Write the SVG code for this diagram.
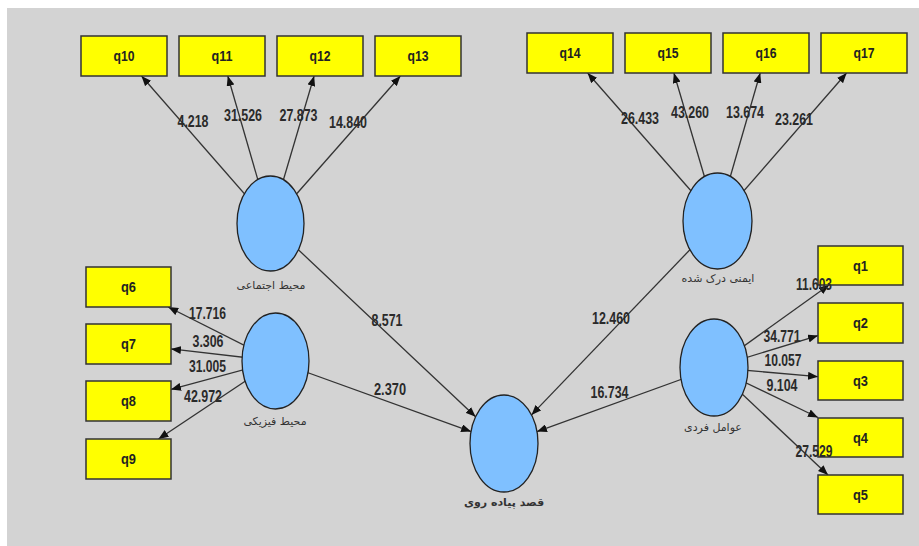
<svg xmlns="http://www.w3.org/2000/svg" width="919" height="546" viewBox="0 0 919 546">
<defs>
<marker id="ah" markerUnits="userSpaceOnUse" markerWidth="10" markerHeight="8" refX="10" refY="4" orient="auto">
<path d="M0,0 L10,4 L0,8 z" fill="#111"/>
</marker>
<style>
.bg{fill:#D3D3D3}
.box{fill:#FFFF00;stroke:#333;stroke-width:1.5}
.lv{fill:#7FC0FF;stroke:#222;stroke-width:1.3}
.ln{stroke:#333;stroke-width:1.3;fill:none;marker-end:url(#ah)}
.bt{font-family:"Liberation Sans",Arial,sans-serif;font-size:14px;font-weight:bold;fill:#222;text-anchor:middle}
.nt{font-family:"Liberation Sans",Arial,sans-serif;font-size:16px;font-weight:bold;fill:#2a2a2a;text-anchor:middle}
.at{font-family:"DejaVu Sans",sans-serif;font-size:11px;fill:#333;text-anchor:middle}
</style>
</defs>
<rect x="0" y="0" width="919" height="546" fill="#fff"/>
<rect class="bg" x="7" y="8" width="912" height="538"/>

<g id="connectors">
<line class="ln" x1="270.5" y1="223.5" x2="141.5" y2="76"/>
<line class="ln" x1="270.5" y1="223.5" x2="227.8" y2="76"/>
<line class="ln" x1="270.5" y1="223.5" x2="314.1" y2="76"/>
<line class="ln" x1="270.5" y1="223.5" x2="400.4" y2="76"/>
<line class="ln" x1="717.5" y1="221" x2="587.6" y2="73"/>
<line class="ln" x1="717.5" y1="221" x2="673.9" y2="73"/>
<line class="ln" x1="717.5" y1="221" x2="760.2" y2="73"/>
<line class="ln" x1="717.5" y1="221" x2="846.6" y2="73"/>
<line class="ln" x1="275.5" y1="361" x2="168.2" y2="307"/>
<line class="ln" x1="275.5" y1="361" x2="171" y2="348.9"/>
<line class="ln" x1="275.5" y1="361" x2="171" y2="389.4"/>
<line class="ln" x1="275.5" y1="361" x2="158.5" y2="439"/>
<line class="ln" x1="714" y1="367.5" x2="829" y2="285"/>
<line class="ln" x1="714" y1="367.5" x2="818" y2="335.6"/>
<line class="ln" x1="714" y1="367.5" x2="818" y2="376.7"/>
<line class="ln" x1="714" y1="367.5" x2="818" y2="417.5"/>
<line class="ln" x1="714" y1="367.5" x2="828" y2="475"/>
<line class="ln" x1="270.5" y1="223.5" x2="475.6" y2="416.8"/>
<line class="ln" x1="275.5" y1="361" x2="471.1" y2="431.6"/>
<line class="ln" x1="717.5" y1="221" x2="531.5" y2="414.9"/>
<line class="ln" x1="714" y1="367.5" x2="537" y2="431.6"/>
</g>

<g id="q10"><rect class="box" x="81" y="36" width="86" height="40"/><text class="bt" x="124" y="61" textLength="21" lengthAdjust="spacingAndGlyphs">q10</text></g>
<g id="q11"><rect class="box" x="179" y="36" width="86" height="40"/><text class="bt" x="222" y="61" textLength="21" lengthAdjust="spacingAndGlyphs">q11</text></g>
<g id="q12"><rect class="box" x="277" y="36" width="86" height="40"/><text class="bt" x="320" y="61" textLength="21" lengthAdjust="spacingAndGlyphs">q12</text></g>
<g id="q13"><rect class="box" x="375" y="36" width="86" height="40"/><text class="bt" x="418" y="61" textLength="21" lengthAdjust="spacingAndGlyphs">q13</text></g>
<g id="q14"><rect class="box" x="527" y="33" width="86" height="40"/><text class="bt" x="570" y="58" textLength="21" lengthAdjust="spacingAndGlyphs">q14</text></g>
<g id="q15"><rect class="box" x="625" y="33" width="86" height="40"/><text class="bt" x="668" y="58" textLength="21" lengthAdjust="spacingAndGlyphs">q15</text></g>
<g id="q16"><rect class="box" x="723" y="33" width="86" height="40"/><text class="bt" x="766" y="58" textLength="21" lengthAdjust="spacingAndGlyphs">q16</text></g>
<g id="q17"><rect class="box" x="821" y="33" width="86" height="40"/><text class="bt" x="864" y="58" textLength="21" lengthAdjust="spacingAndGlyphs">q17</text></g>

<g id="q6"><rect class="box" x="86" y="267" width="85" height="40"/><text class="bt" x="128.5" y="292" textLength="15" lengthAdjust="spacingAndGlyphs" font-weight="normal">q6</text></g>
<g id="q7"><rect class="box" x="86" y="324" width="85" height="40"/><text class="bt" x="128.5" y="349" textLength="15" lengthAdjust="spacingAndGlyphs">q7</text></g>
<g id="q8"><rect class="box" x="86" y="381" width="85" height="40"/><text class="bt" x="128.5" y="406" textLength="15" lengthAdjust="spacingAndGlyphs">q8</text></g>
<g id="q9"><rect class="box" x="86" y="439" width="85" height="40"/><text class="bt" x="128.5" y="464" textLength="15" lengthAdjust="spacingAndGlyphs">q9</text></g>

<g id="q1"><rect class="box" x="818" y="246" width="85" height="39"/><text class="bt" x="860.5" y="270.5" textLength="15" lengthAdjust="spacingAndGlyphs">q1</text></g>
<g id="q2"><rect class="box" x="818" y="303" width="85" height="40"/><text class="bt" x="860.5" y="328" textLength="15" lengthAdjust="spacingAndGlyphs">q2</text></g>
<g id="q3"><rect class="box" x="818" y="361" width="85" height="39"/><text class="bt" x="860.5" y="385.5" textLength="15" lengthAdjust="spacingAndGlyphs">q3</text></g>
<g id="q4"><rect class="box" x="818" y="418" width="85" height="39"/><text class="bt" x="860.5" y="442.5" textLength="15" lengthAdjust="spacingAndGlyphs">q4</text></g>
<g id="q5"><rect class="box" x="818" y="475" width="85" height="39"/><text class="bt" x="860.5" y="499.5" textLength="15" lengthAdjust="spacingAndGlyphs">q5</text></g>

<g id="social"><ellipse class="lv" cx="270.5" cy="223.5" rx="33.5" ry="47.5"/><text class="at" x="271" y="289" direction="rtl">محیط اجتماعی</text></g>
<g id="safety"><ellipse class="lv" cx="717.5" cy="221" rx="34.5" ry="48"/><text class="at" x="718" y="282" direction="rtl">ایمنی درک شده</text></g>
<g id="physical"><ellipse class="lv" cx="275.5" cy="361" rx="33.5" ry="48"/><text class="at" x="275" y="425" direction="rtl">محیط فیزیکی</text></g>
<g id="individual"><ellipse class="lv" cx="714" cy="367.5" rx="34" ry="48.5"/><text class="at" x="713" y="431" direction="rtl">عوامل فردی</text></g>
<g id="intention"><ellipse class="lv" cx="504" cy="443.5" rx="34" ry="48.5"/><text class="at" x="504" y="506" direction="rtl" font-weight="bold" fill="#222">قصد پیاده روی</text></g>

<g id="connector-labels">
<text class="nt" x="193" y="127" textLength="31" lengthAdjust="spacingAndGlyphs">4.218</text>
<text class="nt" x="243" y="121" textLength="38" lengthAdjust="spacingAndGlyphs">31.526</text>
<text class="nt" x="298.5" y="121" textLength="38" lengthAdjust="spacingAndGlyphs">27.873</text>
<text class="nt" x="348" y="128" textLength="38" lengthAdjust="spacingAndGlyphs">14.840</text>
<text class="nt" x="640" y="124" textLength="38" lengthAdjust="spacingAndGlyphs">26.433</text>
<text class="nt" x="690" y="118" textLength="38" lengthAdjust="spacingAndGlyphs">43.260</text>
<text class="nt" x="745" y="118" textLength="38" lengthAdjust="spacingAndGlyphs">13.674</text>
<text class="nt" x="794" y="125" textLength="38" lengthAdjust="spacingAndGlyphs">23.261</text>
<text class="nt" x="207.5" y="319" textLength="37" lengthAdjust="spacingAndGlyphs">17.716</text>
<text class="nt" x="208" y="347" textLength="31" lengthAdjust="spacingAndGlyphs">3.306</text>
<text class="nt" x="207.5" y="372" textLength="37" lengthAdjust="spacingAndGlyphs">31.005</text>
<text class="nt" x="203" y="402" textLength="38" lengthAdjust="spacingAndGlyphs">42.972</text>
<text class="nt" x="814" y="290" textLength="36" lengthAdjust="spacingAndGlyphs">11.603</text>
<text class="nt" x="782" y="342" textLength="37" lengthAdjust="spacingAndGlyphs">34.771</text>
<text class="nt" x="783" y="366" textLength="37" lengthAdjust="spacingAndGlyphs">10.057</text>
<text class="nt" x="782" y="391" textLength="31" lengthAdjust="spacingAndGlyphs">9.104</text>
<text class="nt" x="814" y="457" textLength="37" lengthAdjust="spacingAndGlyphs">27.529</text>
<text class="nt" x="611" y="324" textLength="38" lengthAdjust="spacingAndGlyphs">12.460</text>
<text class="nt" x="609.5" y="398" textLength="38" lengthAdjust="spacingAndGlyphs">16.734</text>
<text class="nt" x="387" y="326" textLength="31" lengthAdjust="spacingAndGlyphs">8.571</text>
<text class="nt" x="390" y="395" textLength="32" lengthAdjust="spacingAndGlyphs">2.370</text>
</g>
</svg>
